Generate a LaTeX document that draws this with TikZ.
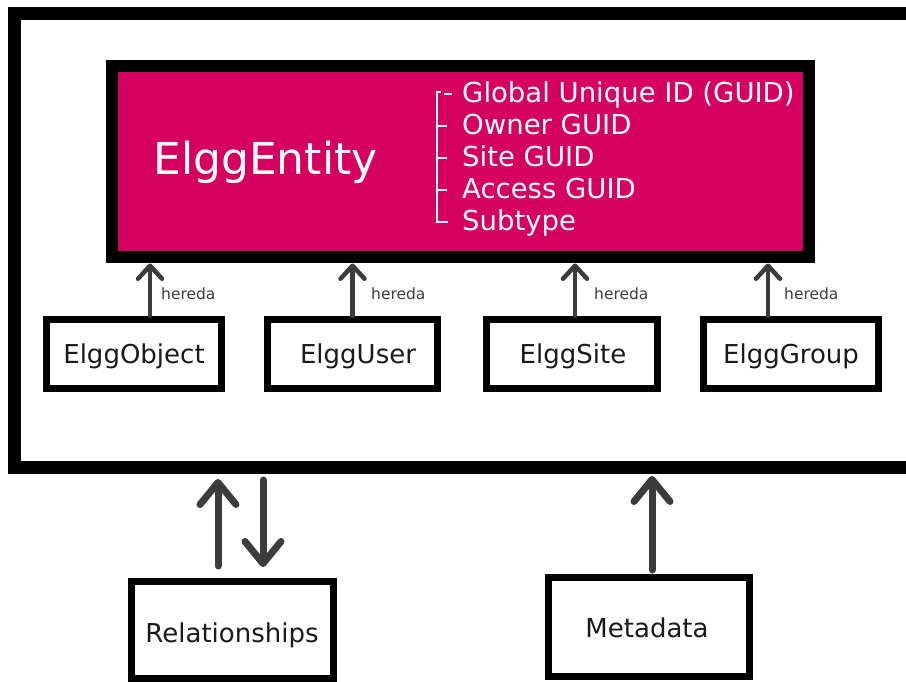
\documentclass[tikz,border=0pt]{standalone}
\usepackage{fontspec}
\setmainfont{DejaVu Sans}
\usetikzlibrary{arrows.meta}

\definecolor{entitypink}{RGB}{213,0,96}
\definecolor{arrowgray}{RGB}{60,60,60}
\definecolor{inktext}{RGB}{26,26,26}

\tikzset{
  classbox/.style={draw=black, line width=7pt, fill=white,
    minimum width=#1, minimum height=69pt, inner sep=0pt},
  outerbox/.style={draw=black, line width=7pt, fill=white, inner sep=0pt},
  classname/.style={anchor=base, inner sep=0pt, text=inktext,
    font=\fontsize{26}{30}\selectfont},
  attr/.style={anchor=base west, inner sep=0pt, text=white,
    font=\fontsize{27.5}{32}\selectfont},
  heredalabel/.style={anchor=base west, inner sep=0pt, text=arrowgray,
    font=\fontsize{15.5}{18}\selectfont},
  inherit/.style={draw=arrowgray, line width=4.5pt, line cap=round,
    -{Straight Barb[length=13pt, width=24pt, round]}},
  linkarrow/.style={draw=arrowgray, line width=7pt, line cap=round,
    -{Straight Barb[length=22pt, width=36pt, round]}},
  bracket/.style={draw=white, line width=1.6pt},
}

\begin{document}
\begin{tikzpicture}[x=1pt, y=-1pt]
\useasboundingbox (0,0) rectangle (906,682);

% open outer frame (its right side runs past the page edge)
\node[minimum width=892pt, minimum height=453.5pt, inner sep=0pt, outer sep=0pt]
  (frame) at (460,240.25) {};
\draw[line width=13pt, line join=miter]
  (frame.north east) -- (frame.north west) -- (frame.south west) -- (frame.south east);

% ElggEntity block
\node[draw=black, fill=entitypink, line width=12pt, minimum width=697pt,
      minimum height=191pt, inner sep=0pt] (ent) at (460,162) {};
\node[anchor=base west, inner sep=0pt, text=white,
      font=\fontsize{44}{52}\selectfont] (entname) at (153,175) {ElggEntity};

\node[attr] (a1) at (462,103) {Global Unique ID (GUID)};
\node[attr] (a2) at (462,135) {Owner GUID};
\node[attr] (a3) at (462,167) {Site GUID};
\node[attr] (a4) at (462,199) {Access GUID};
\node[attr] (a5) at (462,230) {Subtype};

% tree bracket in front of the attribute list
\draw[bracket] (441,92) -- (437,92) -- (437,222) -- (448,222);
\draw[bracket] (444,94) -- (452,94);
\draw[bracket] (437,126) -- (447,126);
\draw[bracket] (437,158) -- (447,158);
\draw[bracket] (437,190) -- (447,190);

% subclasses
\node[classbox=175pt] (obj)  at (134,354)   {};
\node[classbox=170pt] (usr)  at (352.5,354) {};
\node[classbox=171pt] (site) at (572,354)   {};
\node[classbox=175pt] (grp)  at (791,354)   {};

\node[classname] (objname)  at (134,363) {ElggObject};
\node[classname] (usrname)  at (358,363) {ElggUser};
\node[classname] (sitename) at (573,363) {ElggSite};
\node[classname] (grpname)  at (791,363) {ElggGroup};

\draw[inherit] ([xshift=16pt]obj.north)  -- ([xshift=16pt]obj.north |- ent.south);
\draw[inherit] ([xshift=0pt]usr.north)   -- ([xshift=0pt]usr.north |- ent.south);
\draw[inherit] ([xshift=3pt]site.north)  -- ([xshift=3pt]site.north |- ent.south);
\draw[inherit] ([xshift=-23pt]grp.north) -- ([xshift=-23pt]grp.north |- ent.south);

\node[heredalabel] (h1) at (161,299) {hereda};
\node[heredalabel] (h2) at (371,299) {hereda};
\node[heredalabel] (h3) at (594,299) {hereda};
\node[heredalabel] (h4) at (784,299) {hereda};

% related stores below the frame
\node[outerbox, minimum width=202pt, minimum height=97pt] (rel)  at (232.5,630) {};
\node[outerbox, minimum width=201pt, minimum height=99pt] (meta) at (649,627)   {};
\node[classname] (relname)  at (232,642) {Relationships};
\node[classname] (metaname) at (647,637) {Metadata};

\draw[linkarrow] ([xshift=-14.5pt,yshift=12pt]rel.north)
  -- ([xshift=-14.5pt,yshift=-12pt]rel.north |- frame.south);
\draw[linkarrow] ([xshift=30.5pt,yshift=-13pt]rel.north |- frame.south)
  -- ([xshift=30.5pt,yshift=11pt]rel.north);
\draw[linkarrow] ([xshift=3pt,yshift=4pt]meta.north)
  -- ([xshift=3pt,yshift=-9pt]meta.north |- frame.south);
\end{tikzpicture}
\end{document}
